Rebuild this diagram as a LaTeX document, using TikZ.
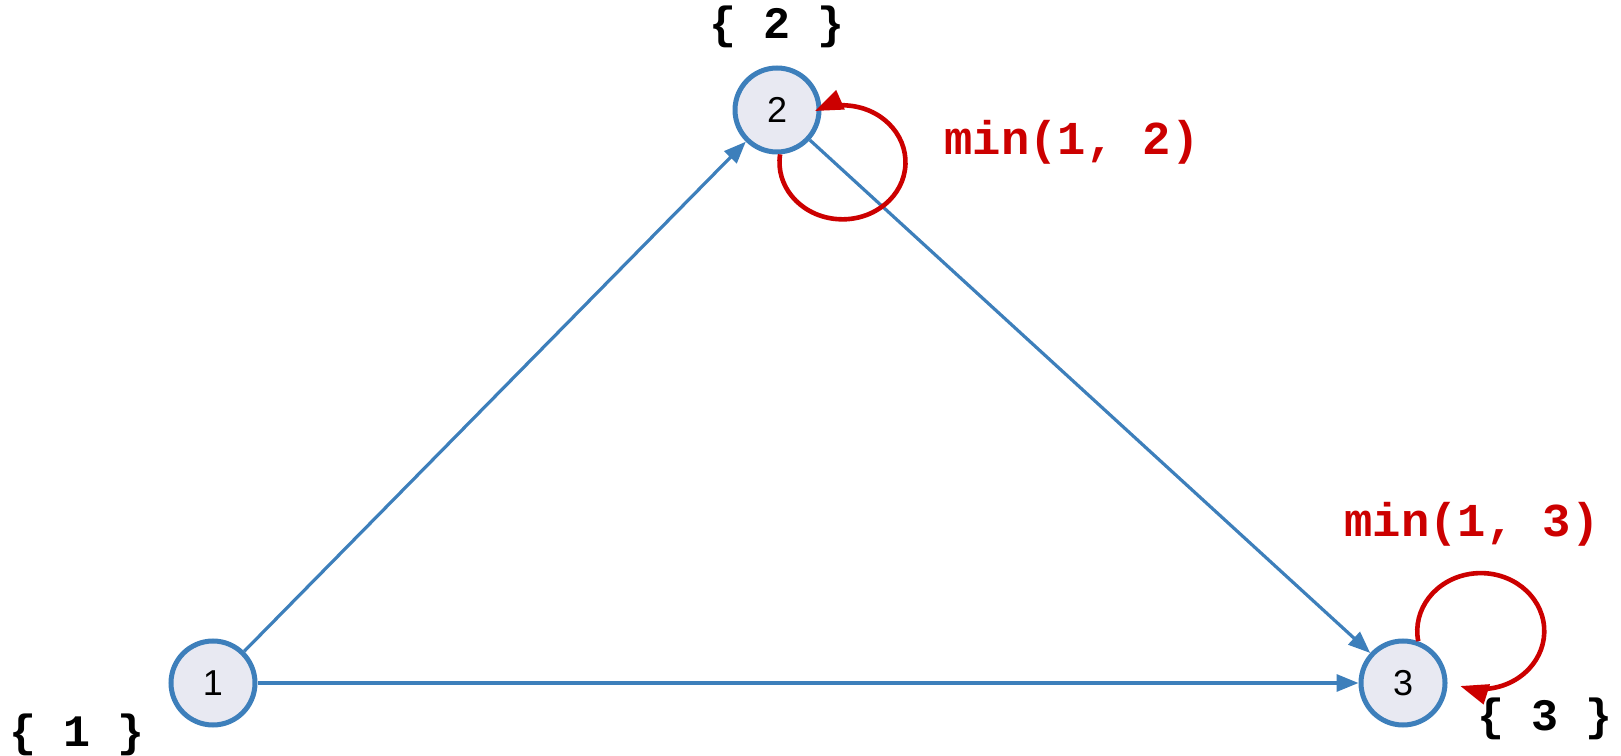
\documentclass[tikz,border=0pt]{standalone}
\usepackage{fontspec}
\setmainfont{Liberation Sans}
\newfontfamily\monobold{Liberation Mono}
\usetikzlibrary{arrows.meta, positioning}
\definecolor{nodeblue}{RGB}{61,127,187}
\definecolor{nodefill}{RGB}{232,233,242}
\definecolor{loopred}{RGB}{204,0,0}

\begin{document}
\begin{tikzpicture}[x=0.5pt, y=0.5pt,
  vertex/.style={circle, draw=nodeblue, fill=nodefill, line width=2.5pt,
    minimum size=42pt, inner sep=0pt, font=\fontsize{18}{18}\selectfont},
  setlabel/.style={font=\monobold\bfseries\fontsize{22.5}{22.5}\selectfont},
  minlabel/.style={font=\monobold\bfseries\fontsize{23.6}{23.6}\selectfont, text=loopred},
  treeedge/.style={-{Triangle[length=11pt, width=8.5pt]}, draw=nodeblue, line width=1.6pt},
  selfloop/.style={-{Triangle[length=14pt, width=10pt]}, draw=loopred, line width=2.3pt}]
\useasboundingbox (0,0) rectangle (1621,755);

% vertices
\node[vertex] (n1) at (213,72) {1};
\node[vertex] (n2) at (777,645) {2};
\node[vertex] (n3) at (1403,72) {3};

% sets
\node[setlabel] (s1) at (77,20) {\{ 1 \}};
\node[setlabel] (s2) at (777,728) {\{ 2 \}};
\node[setlabel] (s3) at (1545,36) {\{ 3 \}};

% edges
\draw[treeedge] (n1) -- (n2);
\draw[treeedge] (n2) -- (n3);
\draw[treeedge] (n1) -- (n3);

% self loops
\draw[selfloop] (n2.-86) arc[start angle=172, end angle=476, x radius=31.5pt, y radius=28.5pt];
\draw[selfloop] (n3.70) arc[start angle=190, end angle=-109, x radius=31.75pt, y radius=29pt];
\node[minlabel] (m2) at (1072,613) {min(1, 2)};
\node[minlabel] (m3) at (1472,231) {min(1, 3)};
\end{tikzpicture}
\end{document}
